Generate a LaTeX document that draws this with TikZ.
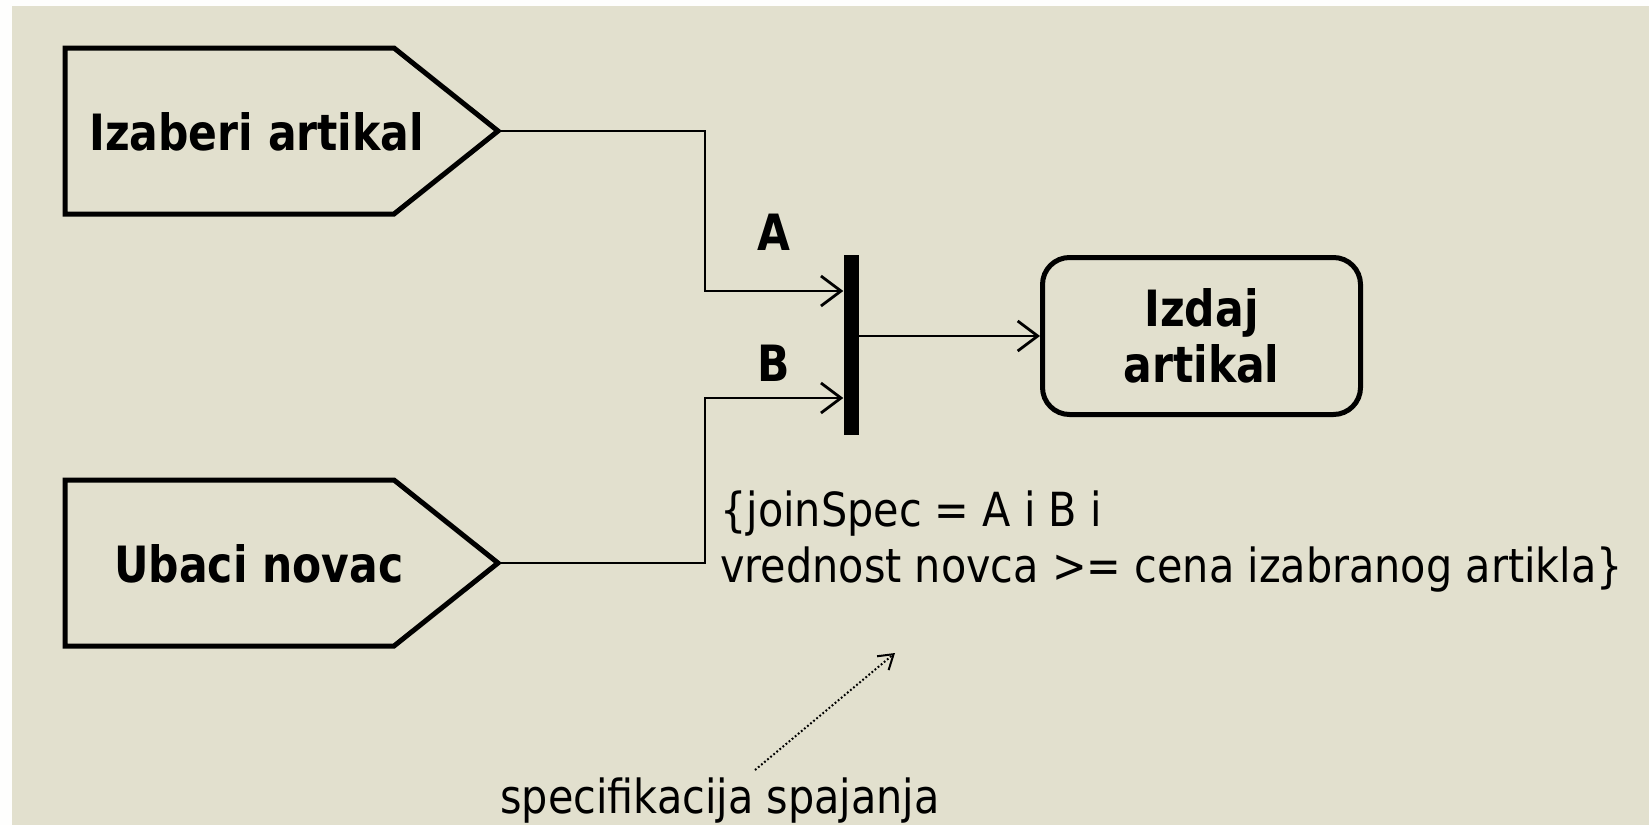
\documentclass[tikz,border=0pt]{standalone}
\usepackage{fontspec}
\setmainfont{DejaVu Sans}
\newfontfamily\labfont[FakeStretch=0.85,BoldFont={DejaVu Sans Bold}]{DejaVu Sans}
\newfontfamily\notefont[FakeStretch=0.88]{DejaVu Sans}
\usetikzlibrary{arrows.meta}
\definecolor{bgc}{RGB}{226,224,206}
\begin{document}
\begin{tikzpicture}[x=1pt,y=-1pt,
  shapeline/.style={line width=5pt, line join=miter},
  conn/.style={line width=2.8pt},
  arr/.style={conn, -{Straight Barb[length=20pt,width=30pt]}},
  bigtext/.style={inner sep=0pt, font=\labfont\bfseries\fontsize{50}{56}\selectfont},
  notetext/.style={inner sep=0pt, font=\notefont\fontsize{47}{56}\selectfont},
  actbox/.style={draw, line width=5pt, rounded corners=27pt, minimum width=318pt, minimum height=157pt, inner sep=0pt, align=center, font=\labfont\bfseries\fontsize{50}{56}\selectfont},
  joinbar/.style={fill=black, minimum width=15pt, minimum height=180pt, inner sep=0pt}]
% background
\fill[white!96!bgc] (0,0) rectangle (1649,825);
\fill[bgc] (12,6) rectangle (1649,825);
\useasboundingbox (0,0) rectangle (1649,825);

% pentagons (accept event actions)
\draw[shapeline] (65,48) -- (394,48) -- (498,131) -- (394,214) -- (65,214) -- cycle;
\coordinate (t1) at (498,131);
\node[bigtext, anchor=base west] (p1) at (89,150) {Izaberi artikal};

\draw[shapeline] (65,480) -- (394,480) -- (498,563) -- (394,646) -- (65,646) -- cycle;
\coordinate (t2) at (498,563);
\node[bigtext, anchor=base west] (p2) at (114,582) {Ubaci novac};

% join bar
\node[joinbar] (bar) at (851,345) {};

% action
\node[actbox] (box) at (1201.5,336) {Izdaj\\artikal};

% connectors
\draw[arr] (t1) -- (705,131) |- ([yshift=54pt]bar.west);
\draw[arr] (t2) -- (705,563) |- ([yshift=-53pt]bar.west);
\draw[arr] (bar.east |- box.west) -- (box.west);

% labels
\node[bigtext, anchor=base] (la) at (774,250) {A};
\node[bigtext, anchor=base] (lb) at (774,381) {B};

% join spec note
\node[notetext, anchor=base west] (n1) at (720,526) {\{joinSpec = A i B i};
\node[notetext, anchor=base west] (n2) at (720,582) {vrednost novca >= cena izabranog artikla\}};

\node[notetext, anchor=base] (spec) at (720,813) {specifikacija spajanja};
\coordinate (specend) at (895,653);
\draw[line width=2pt, dash pattern=on 1.8pt off 2.2pt, -{Straight Barb[length=14pt,width=18pt]}] (755,770) -- (specend);
\end{tikzpicture}
\end{document}
